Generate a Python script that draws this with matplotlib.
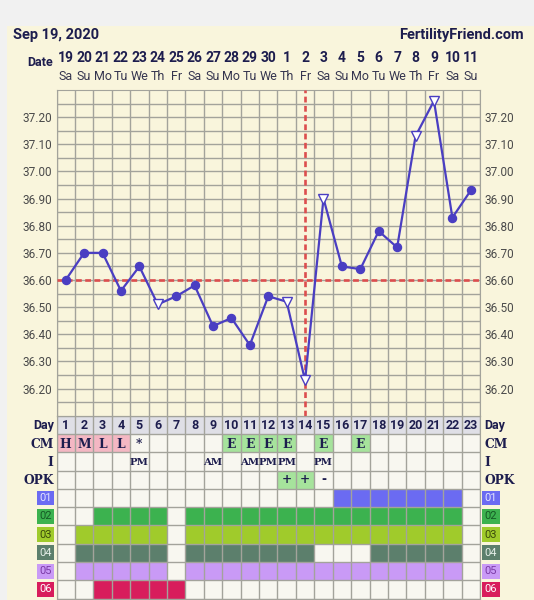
import matplotlib.pyplot as plt
import numpy as np
from matplotlib.patches import Rectangle
from matplotlib.transforms import blended_transform_factory

# ---- data ----
chart_date = "Sep 19, 2020"
site_name = "FertilityFriend.com"

cycle_days = [1, 2, 3, 4, 5, 6, 7, 8, 9, 10, 11, 12, 13, 14, 15, 16, 17, 18, 19, 20, 21, 22, 23]
dates = ["19", "20", "21", "22", "23", "24", "25", "26", "27", "28", "29", "30",
         "1", "2", "3", "4", "5", "6", "7", "8", "9", "10", "11"]
weekdays = ["Sa", "Su", "Mo", "Tu", "We", "Th", "Fr", "Sa", "Su", "Mo", "Tu", "We",
            "Th", "Fr", "Sa", "Su", "Mo", "Tu", "We", "Th", "Fr", "Sa", "Su"]
temps = [36.60, 36.70, 36.70, 36.56, 36.65, 36.51, 36.54, 36.58, 36.43, 36.46, 36.36, 36.54,
         36.52, 36.23, 36.90, 36.65, 36.64, 36.78, 36.72, 37.13, 37.26, 36.83, 36.93]
open_marker_days = [6, 13, 14, 15, 20, 21]   # drawn as open triangles
coverline = 36.60
ovulation_day = 14

cm_values = ["H", "M", "L", "L", "*", "", "", "", "", "E", "E", "E", "E", "", "E", "", "E",
             "", "", "", "", "", ""]
intercourse = ["", "", "", "", "PM", "", "", "", "AM", "", "AM", "PM", "PM", "", "PM", "", "",
               "", "", "", "", "", ""]
opk = ["", "", "", "", "", "", "", "", "", "", "", "", "+", "+", "-", "", "", "", "", "", "",
       "", ""]

custom_names = ["01", "02", "03", "04", "05", "06"]
custom_days = [
    [16, 17, 18, 19, 20, 21, 22],
    [3, 4, 5, 6, 8, 9, 10, 11, 12, 13, 14, 15, 16, 17, 18, 19, 20, 21, 22],
    [2, 3, 4, 5, 6, 8, 9, 10, 11, 12, 13, 14, 15, 16, 17, 18, 19, 20, 21, 22],
    [2, 3, 4, 5, 6, 8, 9, 10, 11, 12, 13, 14, 18, 19, 20, 21, 22],
    [2, 3, 4, 5, 6, 8, 9, 10, 11, 12, 13, 14, 15, 16, 17, 18, 19, 20, 21, 22],
    [3, 4, 5, 6, 7],
]

# ---- styling ----
custom_colors = ["#6b6bf2", "#3cb24f", "#a0cb2b", "#5c7f6c", "#c99af6", "#d81d5c"]
badge_text = ["#e4e4ff", "#155a25", "#3b4a0c", "#e6efe9", "#7b3aa6", "#ffffff"]
navy = "#1d1d4e"
cream = "#f9f5dc"
cell_bg = "#f8f7f0"
grid_c = "#a3a39b"
line_c = "#4a3ec2"
red = "#dc4e4e"
pink = "#f4b7c3"
lgreen = "#a6e39c"
serif_fam = "DejaVu Serif"

W, H = 534, 600
fig = plt.figure(figsize=(W / 100, H / 100), dpi=100)
fig.patch.set_facecolor("#f1f1f1")
fig.patches.append(Rectangle((7 / W, 0), 1, 1 - 26 / H, transform=fig.transFigure,
                             facecolor=cream, edgecolor="none", zorder=-10))

gx0, gx1 = 56.5, 480.0
ty0, ty1 = 90.0, 415.7
tb1 = 598.5

# ---- temperature chart ----
ax = fig.add_axes([gx0 / W, 1 - ty1 / H, (gx1 - gx0) / W, (ty1 - ty0) / H])
ax.set_facecolor(cream)
ax.set_xlim(0.5, 23.5)
ax.set_ylim(36.10, 37.30)
ax.set_xticks(np.arange(0.5, 24, 1))
ax.set_xticklabels([])
major = np.round(np.arange(36.20, 37.25, 0.10), 2)
ax.set_yticks(major)
ax.set_yticks(np.round(np.arange(36.15, 37.30, 0.10), 2), minor=True)
ax.set_yticklabels([f"{v:.2f}" for v in major])
ax.tick_params(axis="both", which="both", length=0)
ax.tick_params(axis="y", labelright=True, labelsize=8.5, labelcolor="#4a4a4a", pad=3)
for lbl in ax.get_yticklabels():
    lbl.set_family("Roboto")
ax.grid(True, which="both", color=grid_c, lw=1.0)
for s in ax.spines.values():
    s.set_color(grid_c)

dash = (0, (2.2, 1.3))
ax.axhline(coverline, color=red, lw=1.9, ls=dash, zorder=3)
ax.axvline(ovulation_day, color=red, lw=1.9, ls=dash, zorder=3)

ax.plot(cycle_days, temps, color=line_c, lw=1.6, zorder=4)
closed_x = [d for d in cycle_days if d not in open_marker_days]
closed_y = [temps[d - 1] for d in closed_x]
open_y = [temps[d - 1] for d in open_marker_days]
ax.plot(closed_x, closed_y, "o", color=line_c, ms=5.8, zorder=5)
ax.plot(open_marker_days, open_y, "v", mfc="white", mec=line_c, mew=1.0, ms=7, zorder=5)

# header texts
ftr = blended_transform_factory(ax.transData, fig.transFigure)
for d, dt, wd in zip(cycle_days, dates, weekdays):
    ax.text(d, 1 - 58.5 / H, dt, transform=ftr, ha="center", va="center",
            family="Roboto", weight="bold", fontsize=10, color=navy)
    ax.text(d, 1 - 76.5 / H, wd, transform=ftr, ha="center", va="center",
            family="Roboto", fontsize=9, color="#35354f")
fig.text(13 / W, 1 - 35 / H, chart_date, ha="left", va="center", family="Roboto",
         weight="bold", fontsize=10.5, color=navy)
fig.text(524 / W, 1 - 35 / H, site_name, ha="right", va="center", family="Roboto",
         weight="bold", fontsize=10.5, color=navy)
fig.text(52.5 / W, 1 - 62 / H, "Date", ha="right", va="center", family="Roboto",
         weight="bold", fontsize=9, color=navy)

# ---- data table ----
tx = fig.add_axes([gx0 / W, 1 - tb1 / H, (gx1 - gx0) / W, (tb1 - ty1) / H])
tx.set_facecolor(cell_bg)
tx.set_xlim(0.5, 23.5)
tx.set_ylim(10, 0)
tx.set_xticks(np.arange(0.5, 24, 1))
tx.set_yticks(np.arange(0, 11, 1))
tx.set_xticklabels([])
tx.set_yticklabels([])
tx.tick_params(length=0)
tx.grid(True, color=grid_c, lw=1.0)
tx.set_axisbelow(False)
for s in tx.spines.values():
    s.set_color(grid_c)

# day row
tx.bar(cycle_days, 1, bottom=0, width=1, color="#dfdfe6", zorder=1)
for d in cycle_days:
    tx.text(d, 0.55, str(d), ha="center", va="center", family="Roboto",
            weight="bold", fontsize=9, color=navy, zorder=4)

serif = dict(family=serif_fam, weight="bold", color=navy, zorder=4)
for d, v in zip(cycle_days, cm_values):
    if v in ("H", "M", "L"):
        tx.bar(d, 1, bottom=1, width=1, color=pink, zorder=1)
    elif v == "E":
        tx.bar(d, 1, bottom=1, width=1, color=lgreen, zorder=1)
    if v:
        tx.text(d, 1.55, v, ha="center", va="center", fontsize=8.8, **serif)
for d, v in zip(cycle_days, intercourse):
    if v:
        tx.text(d, 2.55, v, ha="center", va="center", fontsize=7.3, **serif)
for d, v in zip(cycle_days, opk):
    if v == "+":
        tx.bar(d, 1, bottom=3, width=1, color=lgreen, zorder=1)
    if v:
        tx.text(d, 3.5, v, ha="center", va="center", fontsize=8.8, **serif)

for i, (days, col) in enumerate(zip(custom_days, custom_colors)):
    tx.bar(days, 1, bottom=4 + i, width=1, color=col, zorder=1)

# row labels both sides
row_names = ["Day", "CM", "I", "OPK"]
for r, name in enumerate(row_names):
    kw = dict(family="Roboto", weight="bold", fontsize=9, color=navy) if r == 0 else \
        dict(family=serif_fam, weight="bold", fontsize=8.8, color=navy)
    tx.annotate(name, xy=(0.5, r + 0.55), xytext=(-2, 0), textcoords="offset points",
                ha="right", va="center", annotation_clip=False, **kw)
    tx.annotate(name, xy=(23.5, r + 0.55), xytext=(3, 0), textcoords="offset points",
                ha="left", va="center", annotation_clip=False, **kw)
for i, name in enumerate(custom_names):
    box = dict(boxstyle="square,pad=0.22", fc=custom_colors[i], ec="none")
    tx.annotate(name, xy=(0.5, 4 + i + 0.5), xytext=(-3.3, 0), textcoords="offset points",
                ha="right", va="center", family="Roboto", fontsize=8,
                color=badge_text[i], bbox=box, annotation_clip=False)
    tx.annotate(name, xy=(23.5, 4 + i + 0.5), xytext=(3.3, 0), textcoords="offset points",
                ha="left", va="center", family="Roboto", fontsize=8,
                color=badge_text[i], bbox=box, annotation_clip=False)

fig.savefig("out.png", dpi=100, facecolor=fig.get_facecolor())
